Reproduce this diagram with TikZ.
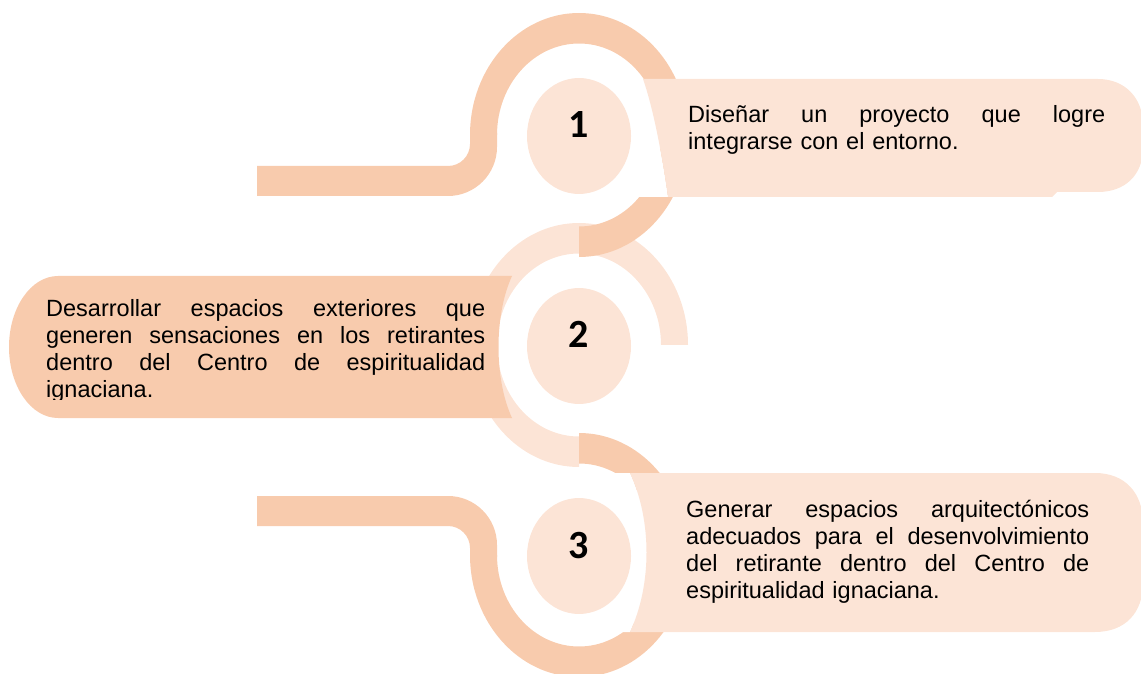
\documentclass[tikz,border=0pt]{standalone}
\usepackage{fontspec}
\setmainfont{Liberation Sans}
\newfontfamily\numfont{Carlito}
\usetikzlibrary{shapes.geometric}
\definecolor{peach}{HTML}{F8CBAD}
\definecolor{peachlt}{HTML}{FCE4D6}
\newcommand{\jline}[2]{\leavevmode\hbox to #1{#2}}
\begin{document}
\begin{tikzpicture}[x=1pt,y=1pt,
  darkband/.style={fill=peach, draw=none},
  lightband/.style={fill=peachlt, draw=none},
  gap/.style={fill=white, draw=none},
  numtxt/.style={font=\numfont\bfseries\fontsize{40}{40}\selectfont, inner sep=0pt, anchor=base},
  bodytxt/.style={font=\fontsize{23.5}{27}\selectfont, inner sep=0pt, anchor=base west, align=left},
  disc/.style={ellipse, fill=peachlt, draw=none, minimum width=104pt, minimum height=116pt, inner sep=0pt}]
\useasboundingbox (0,0) rectangle (1141,673);

% ring 2 (light)
\fill[lightband] (579,450) arc[start angle=90,end angle=270,x radius=109pt,y radius=122pt]
  -- (579,236.5) arc[start angle=270,end angle=90,x radius=82pt,y radius=91.5pt] -- cycle;
\fill[lightband] (579,450) arc[start angle=90,end angle=0,x radius=109pt,y radius=122pt]
  -- (661,328) arc[start angle=0,end angle=90,x radius=82pt,y radius=91.5pt] -- cycle;

% ring 1 (dark)
\fill[darkband] (470,538) arc[start angle=180,end angle=-90,x radius=109pt,y radius=122pt]
  -- (579,446.5) arc[start angle=-90,end angle=180,x radius=82pt,y radius=91.5pt] -- cycle;
\fill[darkband] (470,540) -- (470,529) arc[start angle=0,end angle=-90,radius=22pt]
  -- (257,507) -- (257,477) -- (448,477) arc[start angle=-90,end angle=0,radius=49pt]
  -- (497,540) -- cycle;

% ring 3 (dark)
\fill[darkband] (579,240) arc[start angle=90,end angle=-180,x radius=109pt,y radius=122pt]
  -- (497,118) arc[start angle=-180,end angle=90,x radius=82pt,y radius=91.5pt] -- cycle;
\fill[darkband] (470,116) -- (470,125) arc[start angle=0,end angle=90,radius=22pt]
  -- (257,147) -- (257,177) -- (448,177) arc[start angle=90,end angle=0,radius=49pt]
  -- (497,116) -- cycle;

% white gaps between discs and the right boxes
\fill[gap] (643,594) .. controls (655,560) and (664,505) .. (668,476) -- (600,476) -- (600,594) -- cycle;
\fill[gap] (630,200) .. controls (652,153) and (652,88) .. (630,41) -- (600,41) -- (600,200) -- cycle;

% discs
\node[disc] (d1) at (579,537) {};
\node[disc] (d2) at (579,327) {};
\node[disc] (d3) at (579,117) {};
\node[numtxt] (n1) at (579,535) {1};
\node[numtxt] (n2) at (579,325) {2};
\node[numtxt] (n3) at (579,115) {3};

% boxes
\fill[lightband] (643,594) -- (1098,594) .. controls (1125,594) and (1143,575) .. (1143,548)
  -- (1143,525) .. controls (1143,498) and (1125,481) .. (1098,481) -- (1057,481) -- (1052,476)
  -- (668,476) .. controls (664,505) and (655,560) .. (643,594) -- cycle;
\fill[darkband] (58,397) -- (512,397) .. controls (494,358) and (494,294) .. (512,255)
  -- (58,255) arc[start angle=270,end angle=90,x radius=49pt,y radius=71pt] -- cycle;
\fill[lightband] (630,200) -- (1095,200) .. controls (1125,200) and (1143,180) .. (1143,150)
  -- (1143,90) .. controls (1143,60) and (1125,41) .. (1095,41)
  -- (630,41) .. controls (652,88) and (652,153) .. (630,200) -- cycle;

% texts
\node[bodytxt, text width=417pt] (t1) at (688,550)
  {\jline{417pt}{Diseñar\hfill un\hfill proyecto\hfill que\hfill logre}\\integrarse con el entorno.};
\begin{scope}
\clip (0,273) rectangle (600,673);
\node[bodytxt, text width=439pt] (t2) at (46,356)
  {\jline{439pt}{Desarrollar\hfill espacios\hfill exteriores\hfill que}\\
   \jline{439pt}{generen\hfill sensaciones\hfill en\hfill los\hfill retirantes}\\
   \jline{439pt}{dentro\hfill del\hfill Centro\hfill de\hfill espiritualidad}\\
   ignaciana.};
\end{scope}
\node[bodytxt, text width=403pt] (t3) at (686,156)
  {\jline{403pt}{Generar\hfill espacios\hfill arquitectónicos}\\
   \jline{403pt}{adecuados\hfill para\hfill el\hfill desenvolvimiento}\\
   \jline{403pt}{del\hfill retirante\hfill dentro\hfill del\hfill Centro\hfill de}\\
   espiritualidad ignaciana.};
\end{tikzpicture}
\end{document}
